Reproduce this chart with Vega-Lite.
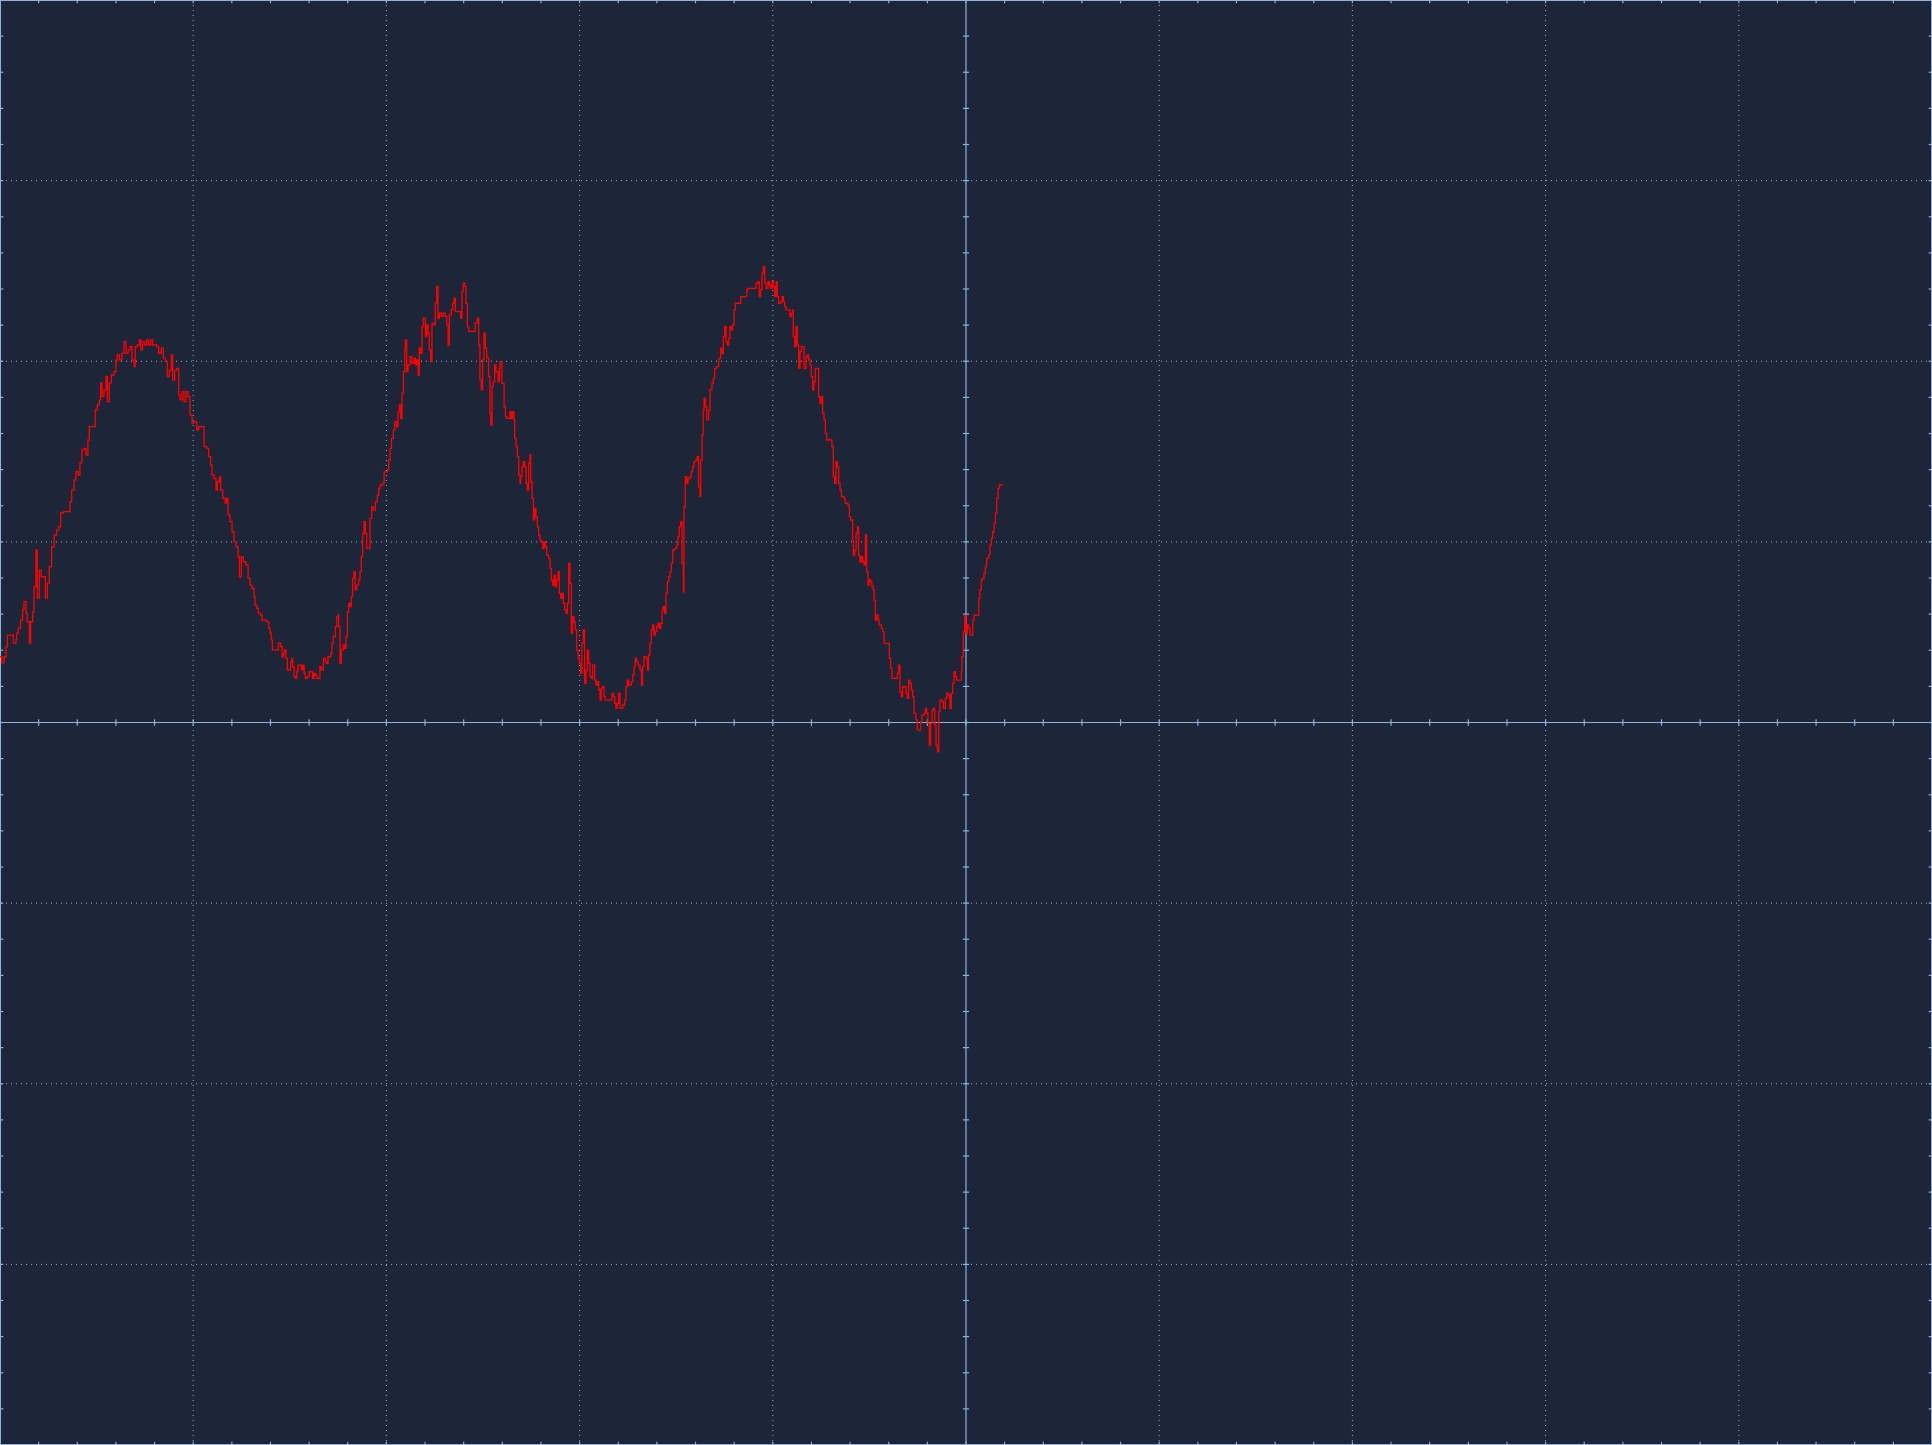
{
"$schema": "https://vega.github.io/schema/vega-lite/v6.json",
"width": 1932, "height": 1445,
"autosize": {"type": "none"},
"padding": 0,
"background": "#1c2638",
"config": {"view": {"stroke": "#8fb3dc", "strokeWidth": 2, "fill": "#1c2638"}},
"datasets": {
"vg": [{"p":1},{"p":2},{"p":3},{"p":4},{"p":6},{"p":7},{"p":8},{"p":9}],
"hg": [{"p":-3},{"p":-2},{"p":-1},{"p":1},{"p":2},{"p":3}],
"xt": [{"p":0.2},{"p":0.4},{"p":0.6},{"p":0.8},{"p":1},{"p":1.2},{"p":1.4},{"p":1.6},{"p":1.8},{"p":2},{"p":2.2},{"p":2.4},{"p":2.6},{"p":2.8},{"p":3},{"p":3.2},{"p":3.4},{"p":3.6},{"p":3.8},{"p":4},{"p":4.2},{"p":4.4},{"p":4.6},{"p":4.8},{"p":5},{"p":5.2},{"p":5.4},{"p":5.6},{"p":5.8},{"p":6},{"p":6.2},{"p":6.4},{"p":6.6},{"p":6.8},{"p":7},{"p":7.2},{"p":7.4},{"p":7.6},{"p":7.8},{"p":8},{"p":8.2},{"p":8.4},{"p":8.6},{"p":8.8},{"p":9},{"p":9.2},{"p":9.4},{"p":9.6},{"p":9.8}],
"yt": [{"p":-3.8},{"p":-3.6},{"p":-3.4},{"p":-3.2},{"p":-3},{"p":-2.8},{"p":-2.6},{"p":-2.4},{"p":-2.2},{"p":-2},{"p":-1.8},{"p":-1.6},{"p":-1.4},{"p":-1.2},{"p":-1},{"p":-0.8},{"p":-0.6},{"p":-0.4},{"p":-0.2},{"p":0},{"p":0.2},{"p":0.4},{"p":0.6},{"p":0.8},{"p":1},{"p":1.2},{"p":1.4},{"p":1.6},{"p":1.8},{"p":2},{"p":2.2},{"p":2.4},{"p":2.6},{"p":2.8},{"p":3},{"p":3.2},{"p":3.4},{"p":3.6},{"p":3.8}],
"trace": [
{"t":0,"v":0.364},{"t":0.009,"v":0.33},{"t":0.021,"v":0.364},{"t":0.031,"v":0.42},{"t":0.038,"v":0.484},{"t":0.060,"v":0.484},{"t":0.069,"v":0.44},{"t":0.083,"v":0.46},{"t":0.086,"v":0.495},{"t":0.095,"v":0.523},{"t":0.107,"v":0.567},{"t":0.117,"v":0.623},{"t":0.124,"v":0.669},{"t":0.135,"v":0.605},{"t":0.141,"v":0.558},{"t":0.152,"v":0.44},{"t":0.159,"v":0.558},{"t":0.169,"v":0.613},{"t":0.176,"v":0.752},{"t":0.186,"v":0.955},{"t":0.193,"v":0.689},{"t":0.204,"v":0.844},{"t":0.214,"v":0.807},{"t":0.228,"v":0.807},{"t":0.235,"v":0.689},{"t":0.245,"v":0.772},{"t":0.255,"v":0.863},{"t":0.267,"v":0.973},{"t":0.280,"v":1.038},{"t":0.293,"v":1.066},{"t":0.304,"v":1.084},{"t":0.314,"v":1.16},{"t":0.328,"v":1.167},{"t":0.354,"v":1.167},{"t":0.362,"v":1.223},{"t":0.371,"v":1.287},{"t":0.383,"v":1.343},{"t":0.393,"v":1.389},{"t":0.405,"v":1.37},{"t":0.414,"v":1.437},{"t":0.424,"v":1.509},{"t":0.435,"v":1.517},{"t":0.445,"v":1.481},{"t":0.455,"v":1.564},{"t":0.462,"v":1.638},{"t":0.483,"v":1.638},{"t":0.493,"v":1.73},{"t":0.504,"v":1.758},{"t":0.514,"v":1.786},{"t":0.521,"v":1.88},{"t":0.528,"v":1.804},{"t":0.538,"v":1.841},{"t":0.549,"v":1.915},{"t":0.556,"v":1.776},{"t":0.566,"v":1.88},{"t":0.576,"v":1.924},{"t":0.590,"v":1.942},{"t":0.600,"v":2.007},{"t":0.607,"v":2.035},{"t":0.618,"v":2.007},{"t":0.631,"v":2.044},{"t":0.642,"v":2.109},{"t":0.652,"v":2.044},{"t":0.663,"v":2.063},{"t":0.673,"v":2.081},{"t":0.683,"v":2.007},{"t":0.694,"v":1.97},{"t":0.700,"v":2.081},{"t":0.711,"v":2.09},{"t":0.721,"v":2.118},{"t":0.728,"v":2.063},{"t":0.738,"v":2.109},{"t":0.749,"v":2.09},{"t":0.759,"v":2.118},{"t":0.769,"v":2.09},{"t":0.780,"v":2.118},{"t":0.790,"v":2.09},{"t":0.811,"v":2.081},{"t":0.821,"v":2.044},{"t":0.835,"v":2.072},{"t":0.845,"v":2.017},{"t":0.856,"v":1.998},{"t":0.866,"v":1.915},{"t":0.876,"v":1.95},{"t":0.887,"v":2.035},{"t":0.894,"v":1.896},{"t":0.904,"v":1.95},{"t":0.914,"v":1.96},{"t":0.925,"v":1.813},{"t":0.932,"v":1.786},{"t":0.942,"v":1.832},{"t":0.952,"v":1.776},{"t":0.963,"v":1.832},{"t":0.973,"v":1.804},{"t":0.983,"v":1.703},{"t":0.994,"v":1.657},{"t":1.004,"v":1.666},{"t":1.018,"v":1.62},{"t":1.028,"v":1.638},{"t":1.049,"v":1.638},{"t":1.056,"v":1.527},{"t":1.070,"v":1.518},{"t":1.080,"v":1.472},{"t":1.090,"v":1.426},{"t":1.097,"v":1.37},{"t":1.108,"v":1.352},{"t":1.118,"v":1.287},{"t":1.125,"v":1.333},{"t":1.135,"v":1.36},{"t":1.142,"v":1.287},{"t":1.153,"v":1.241},{"t":1.166,"v":1.214},{"t":1.173,"v":1.241},{"t":1.180,"v":1.149},{"t":1.190,"v":1.112},{"t":1.201,"v":1.056},{"t":1.211,"v":1.001},{"t":1.222,"v":0.973},{"t":1.232,"v":0.918},{"t":1.239,"v":0.807},{"t":1.249,"v":0.918},{"t":1.259,"v":0.89},{"t":1.273,"v":0.872},{"t":1.284,"v":0.798},
{"t":1.294,"v":0.761},{"t":1.304,"v":0.743},{"t":1.315,"v":0.697},{"t":1.320,"v":0.650},{"t":1.329,"v":0.632},{"t":1.337,"v":0.605},{"t":1.349,"v":0.595},{"t":1.356,"v":0.567},{"t":1.380,"v":0.558},{"t":1.391,"v":0.521},{"t":1.398,"v":0.494},{"t":1.404,"v":0.457},{"t":1.410,"v":0.402},{"t":1.432,"v":0.402},{"t":1.441,"v":0.439},{"t":1.453,"v":0.420},{"t":1.460,"v":0.364},{"t":1.467,"v":0.383},{"t":1.473,"v":0.402},{"t":1.480,"v":0.355},{"t":1.487,"v":0.291},{"t":1.498,"v":0.291},{"t":1.504,"v":0.337},{"t":1.511,"v":0.355},{"t":1.515,"v":0.309},{"t":1.522,"v":0.254},{"t":1.529,"v":0.245},{"t":1.536,"v":0.281},{"t":1.542,"v":0.318},{"t":1.553,"v":0.318},{"t":1.560,"v":0.291},{"t":1.567,"v":0.318},{"t":1.574,"v":0.272},{"t":1.580,"v":0.245},{"t":1.591,"v":0.254},{"t":1.601,"v":0.281},{"t":1.611,"v":0.281},{"t":1.618,"v":0.245},{"t":1.625,"v":0.272},{"t":1.632,"v":0.263},{"t":1.639,"v":0.245},{"t":1.649,"v":0.245},{"t":1.656,"v":0.309},{"t":1.663,"v":0.291},{"t":1.674,"v":0.355},{"t":1.684,"v":0.337},{"t":1.691,"v":0.328},{"t":1.698,"v":0.364},{"t":1.712,"v":0.383},{"t":1.718,"v":0.439},{"t":1.725,"v":0.476},{"t":1.736,"v":0.531},{"t":1.743,"v":0.586},{"t":1.749,"v":0.595},{"t":1.753,"v":0.531},{"t":1.760,"v":0.328},{"t":1.767,"v":0.402},{"t":1.777,"v":0.429},{"t":1.784,"v":0.411},{"t":1.791,"v":0.476},{"t":1.798,"v":0.613},{"t":1.805,"v":0.660},{"t":1.812,"v":0.641},{"t":1.818,"v":0.697},{"t":1.825,"v":0.798},{"t":1.832,"v":0.835},{"t":1.839,"v":0.734},{"t":1.846,"v":0.761},{"t":1.856,"v":0.789},{"t":1.863,"v":0.835},{"t":1.870,"v":0.918},{"t":1.877,"v":1.047},{"t":1.884,"v":1.112},{"t":1.891,"v":1.047},{"t":1.898,"v":0.964},{"t":1.908,"v":0.964},{"t":1.915,"v":1.130},{"t":1.924,"v":1.195},{"t":1.932,"v":1.176},{"t":1.943,"v":1.222},{"t":1.953,"v":1.259},{"t":1.960,"v":1.296},{"t":1.967,"v":1.315},{"t":1.981,"v":1.324},{"t":1.988,"v":1.388},{"t":2.005,"v":1.398},{"t":2.012,"v":1.453},{"t":2.019,"v":1.518},{"t":2.026,"v":1.573},{"t":2.036,"v":1.619},{"t":2.043,"v":1.665},{"t":2.053,"v":1.638},{"t":2.060,"v":1.721},{"t":2.067,"v":1.758},{"t":2.074,"v":1.684},{"t":2.081,"v":1.823},{"t":2.088,"v":1.943},{"t":2.095,"v":2.063},{"t":2.098,"v":2.118},{"t":2.105,"v":1.943},{"t":2.112,"v":1.980},{"t":2.122,"v":2.026},{"t":2.132,"v":1.989},{"t":2.143,"v":2.017},{"t":2.150,"v":1.980},{"t":2.157,"v":2.007},{"t":2.164,"v":1.924},{"t":2.170,"v":2.072},{"t":2.177,"v":2.044},{"t":2.184,"v":2.192},{"t":2.191,"v":2.238},{"t":2.202,"v":2.136},{"t":2.208,"v":2.201},{"t":2.215,"v":2.155},{"t":2.222,"v":2.063},{"t":2.229,"v":1.998},{"t":2.236,"v":2.210},{"t":2.246,"v":2.201},{"t":2.253,"v":2.322},{"t":2.260,"v":2.415},{"t":2.267,"v":2.238},{"t":2.274,"v":2.266},{"t":2.284,"v":2.248},{"t":2.295,"v":2.266},{"t":2.305,"v":2.248},{"t":2.312,"v":2.201},{"t":2.319,"v":2.090},{"t":2.326,"v":2.257},{"t":2.336,"v":2.285},{"t":2.343,"v":2.321},{"t":2.350,"v":2.349},{"t":2.357,"v":2.275},{"t":2.377,"v":2.275},{"t":2.384,"v":2.238},{"t":2.391,"v":2.386},{"t":2.398,"v":2.432},{"t":2.405,"v":2.414},{"t":2.412,"v":2.321},{"t":2.419,"v":2.192},{"t":2.426,"v":2.165},{"t":2.450,"v":2.165},{"t":2.460,"v":2.211},{"t":2.471,"v":2.238},{"t":2.478,"v":2.090},{"t":2.484,"v":1.896},{"t":2.491,"v":1.841},{"t":2.498,"v":2.007},{"t":2.505,"v":2.155},{"t":2.512,"v":2.072},{"t":2.519,"v":2.017},{"t":2.529,"v":1.915},{"t":2.536,"v":1.712},{"t":2.540,"v":1.647},{"t":2.547,"v":1.860},{"t":2.553,"v":1.887},{"t":2.560,"v":1.980},{"t":2.567,"v":1.943},{"t":2.578,"v":1.887},{"t":2.585,"v":1.961},
{"t":2.588,"v":1.998},{"t":2.598,"v":1.878},{"t":2.609,"v":1.749},{"t":2.616,"v":1.693},{"t":2.623,"v":1.684},{"t":2.633,"v":1.684},{"t":2.640,"v":1.721},{"t":2.647,"v":1.684},{"t":2.654,"v":1.721},{"t":2.660,"v":1.675},{"t":2.664,"v":1.573},{"t":2.671,"v":1.527},{"t":2.678,"v":1.472},{"t":2.685,"v":1.370},{"t":2.692,"v":1.324},{"t":2.695,"v":1.361},{"t":2.702,"v":1.416},{"t":2.709,"v":1.444},{"t":2.716,"v":1.416},{"t":2.723,"v":1.324},{"t":2.729,"v":1.287},{"t":2.736,"v":1.435},{"t":2.743,"v":1.481},{"t":2.747,"v":1.333},{"t":2.754,"v":1.241},{"t":2.761,"v":1.121},{"t":2.767,"v":1.186},{"t":2.774,"v":1.139},{"t":2.781,"v":1.084},{"t":2.788,"v":1.038},{"t":2.795,"v":1.010},{"t":2.802,"v":1.001},{"t":2.809,"v":0.964},{"t":2.816,"v":1.001},{"t":2.823,"v":0.973},{"t":2.830,"v":0.927},{"t":2.840,"v":0.909},{"t":2.847,"v":0.853},{"t":2.854,"v":0.789},{"t":2.861,"v":0.761},{"t":2.868,"v":0.816},{"t":2.874,"v":0.752},{"t":2.881,"v":0.789},{"t":2.888,"v":0.835},{"t":2.895,"v":0.715},{"t":2.902,"v":0.687},{"t":2.909,"v":0.715},{"t":2.916,"v":0.660},{"t":2.923,"v":0.623},{"t":2.930,"v":0.604},{"t":2.937,"v":0.660},{"t":2.943,"v":0.881},{"t":2.950,"v":0.770},{"t":2.957,"v":0.493},{"t":2.964,"v":0.586},{"t":2.971,"v":0.558},{"t":2.978,"v":0.512},{"t":2.985,"v":0.401},{"t":2.992,"v":0.355},{"t":2.999,"v":0.327},{"t":3.006,"v":0.272},{"t":3.012,"v":0.438},{"t":3.019,"v":0.512},{"t":3.026,"v":0.217},{"t":3.033,"v":0.290},{"t":3.040,"v":0.401},{"t":3.047,"v":0.327},{"t":3.054,"v":0.254},{"t":3.061,"v":0.244},{"t":3.068,"v":0.318},{"t":3.078,"v":0.235},{"t":3.085,"v":0.207},{"t":3.092,"v":0.226},{"t":3.099,"v":0.180},{"t":3.106,"v":0.124},{"t":3.112,"v":0.189},{"t":3.119,"v":0.198},{"t":3.126,"v":0.143},{"t":3.133,"v":0.124},{"t":3.157,"v":0.124},{"t":3.168,"v":0.161},{"t":3.175,"v":0.143},{"t":3.182,"v":0.106},{"t":3.188,"v":0.078},{"t":3.195,"v":0.106},{"t":3.202,"v":0.161},{"t":3.209,"v":0.078},{"t":3.223,"v":0.097},{"t":3.233,"v":0.124},{"t":3.240,"v":0.198},{"t":3.247,"v":0.235},{"t":3.254,"v":0.207},{"t":3.268,"v":0.226},{"t":3.275,"v":0.263},{"t":3.282,"v":0.309},{"t":3.288,"v":0.355},{"t":3.295,"v":0.337},{"t":3.302,"v":0.318},{"t":3.313,"v":0.290},{"t":3.320,"v":0.207},{"t":3.326,"v":0.309},{"t":3.333,"v":0.364},{"t":3.344,"v":0.355},{"t":3.351,"v":0.290},{"t":3.357,"v":0.373},{"t":3.364,"v":0.438},{"t":3.371,"v":0.512},{"t":3.378,"v":0.540},{"t":3.385,"v":0.484},{"t":3.392,"v":0.503},{"t":3.399,"v":0.530},{"t":3.406,"v":0.549},{"t":3.413,"v":0.521},{"t":3.420,"v":0.549},{"t":3.427,"v":0.623},{"t":3.433,"v":0.641},{"t":3.440,"v":0.604},{"t":3.447,"v":0.715},{"t":3.454,"v":0.780},{"t":3.461,"v":0.807},{"t":3.468,"v":0.835},{"t":3.475,"v":0.881},{"t":3.482,"v":0.955},{"t":3.492,"v":0.964},{"t":3.502,"v":0.982},{"t":3.509,"v":1.029},{"t":3.516,"v":1.084},{"t":3.523,"v":1.112},{"t":3.530,"v":0.881},{"t":3.537,"v":0.724},{"t":3.540,"v":1.195},{"t":3.547,"v":1.361},{"t":3.554,"v":1.324},{"t":3.561,"v":1.352},{"t":3.571,"v":1.361},{"t":3.578,"v":1.389},{"t":3.585,"v":1.416},{"t":3.592,"v":1.444},{"t":3.602,"v":1.453},{"t":3.609,"v":1.472},{"t":3.616,"v":1.306},{"t":3.623,"v":1.250},{"t":3.627,"v":1.453},{"t":3.634,"v":1.592},{"t":3.640,"v":1.730},{"t":3.644,"v":1.795},{"t":3.651,"v":1.749},{"t":3.658,"v":1.675},{"t":3.668,"v":1.730},{"t":3.675,"v":1.841},{"t":3.685,"v":1.878},{"t":3.692,"v":1.905},{"t":3.699,"v":1.961},{"t":3.709,"v":1.970},{"t":3.720,"v":2.016},{"t":3.730,"v":2.072},{"t":3.737,"v":2.044},{"t":3.744,"v":2.136},{"t":3.751,"v":2.191},{"t":3.758,"v":2.108},{"t":3.765,"v":2.090},{"t":3.772,"v":2.127},{"t":3.778,"v":2.191},{"t":3.785,"v":2.173},{"t":3.792,"v":2.201},{"t":3.799,"v":2.284},{"t":3.806,"v":2.321},{"t":3.827,"v":2.321},{"t":3.834,"v":2.358},{"t":3.858,"v":2.358},{"t":3.865,"v":2.395},{"t":3.872,"v":2.404},
{"t":3.882,"v":2.404},{"t":3.906,"v":2.404},{"t":3.913,"v":2.431},{"t":3.923,"v":2.441},{"t":3.930,"v":2.358},{"t":3.937,"v":2.395},{"t":3.944,"v":2.487},{"t":3.951,"v":2.524},{"t":3.958,"v":2.431},{"t":3.965,"v":2.404},{"t":3.975,"v":2.441},{"t":3.982,"v":2.422},{"t":3.989,"v":2.404},{"t":3.996,"v":2.441},{"t":4.003,"v":2.413},{"t":4.010,"v":2.358},{"t":4.017,"v":2.441},{"t":4.023,"v":2.358},{"t":4.030,"v":2.321},{"t":4.041,"v":2.330},{"t":4.048,"v":2.358},{"t":4.055,"v":2.330},{"t":4.061,"v":2.302},{"t":4.068,"v":2.284},{"t":4.082,"v":2.284},{"t":4.089,"v":2.247},{"t":4.096,"v":2.265},{"t":4.103,"v":2.284},{"t":4.106,"v":2.136},{"t":4.113,"v":2.081},{"t":4.120,"v":2.191},{"t":4.127,"v":2.090},{"t":4.134,"v":1.961},{"t":4.141,"v":2.053},{"t":4.148,"v":2.081},{"t":4.155,"v":2.081},{"t":4.162,"v":1.961},{"t":4.172,"v":2.025},{"t":4.179,"v":2.035},{"t":4.186,"v":2.007},{"t":4.193,"v":1.979},{"t":4.199,"v":1.915},{"t":4.206,"v":1.841},{"t":4.213,"v":1.887},{"t":4.220,"v":1.961},{"t":4.234,"v":1.961},{"t":4.237,"v":1.804},{"t":4.244,"v":1.767},{"t":4.251,"v":1.804},{"t":4.258,"v":1.712},{"t":4.265,"v":1.675},{"t":4.272,"v":1.601},{"t":4.279,"v":1.564},{"t":4.300,"v":1.564},{"t":4.306,"v":1.527},{"t":4.313,"v":1.361},{"t":4.320,"v":1.324},{"t":4.327,"v":1.444},{"t":4.334,"v":1.416},{"t":4.341,"v":1.324},{"t":4.348,"v":1.287},{"t":4.355,"v":1.250},{"t":4.369,"v":1.241},{"t":4.375,"v":1.213},{"t":4.389,"v":1.204},{"t":4.396,"v":1.139},{"t":4.403,"v":1.121},{"t":4.410,"v":1.121},{"t":4.413,"v":1.010},{"t":4.417,"v":0.927},{"t":4.424,"v":0.955},{"t":4.431,"v":1.047},{"t":4.438,"v":1.084},{"t":4.444,"v":0.927},{"t":4.451,"v":0.890},{"t":4.458,"v":0.918},{"t":4.465,"v":0.890},{"t":4.472,"v":0.872},{"t":4.479,"v":1.038},{"t":4.486,"v":0.835},{"t":4.493,"v":0.761},{"t":4.500,"v":0.789},{"t":4.507,"v":0.780},{"t":4.513,"v":0.752},{"t":4.520,"v":0.733},{"t":4.524,"v":0.678},{"t":4.531,"v":0.567},{"t":4.538,"v":0.595},{"t":4.545,"v":0.567},{"t":4.551,"v":0.540},{"t":4.562,"v":0.521},{"t":4.569,"v":0.503},{"t":4.576,"v":0.438},{"t":4.596,"v":0.438},{"t":4.603,"v":0.355},{"t":4.610,"v":0.300},{"t":4.617,"v":0.244},{"t":4.638,"v":0.244},{"t":4.645,"v":0.272},{"t":4.651,"v":0.318},{"t":4.658,"v":0.170},{"t":4.665,"v":0.143},{"t":4.672,"v":0.198},{"t":4.683,"v":0.198},{"t":4.689,"v":0.161},{"t":4.696,"v":0.134},{"t":4.703,"v":0.235},{"t":4.710,"v":0.216},{"t":4.717,"v":0.180},{"t":4.724,"v":0.143},{"t":4.731,"v":0.050},{"t":4.741,"v":0.014},{"t":4.748,"v":-0.042},{"t":4.758,"v":-0.042},{"t":4.765,"v":0.004},{"t":4.772,"v":0.041},{"t":4.783,"v":0.050},{"t":4.790,"v":0.078},{"t":4.796,"v":0.050},{"t":4.803,"v":-0.005},{"t":4.810,"v":-0.125},{"t":4.817,"v":-0.005},{"t":4.824,"v":0.069},{"t":4.831,"v":0.078},{"t":4.838,"v":-0.014},{"t":4.845,"v":-0.125},{"t":4.852,"v":-0.162},{"t":4.859,"v":0.060},{"t":4.865,"v":0.124},{"t":4.876,"v":0.115},{"t":4.883,"v":0.078},{"t":4.893,"v":0.134},{"t":4.900,"v":0.161},{"t":4.910,"v":0.152},{"t":4.917,"v":0.078},{"t":4.924,"v":0.161},{"t":4.931,"v":0.217},{"t":4.938,"v":0.281},{"t":4.945,"v":0.253},{"t":4.952,"v":0.235},{"t":4.969,"v":0.235},{"t":4.976,"v":0.281},{"t":4.979,"v":0.364},{"t":4.986,"v":0.503},{"t":4.993,"v":0.595},{"t":5.000,"v":0.493},{"t":5.007,"v":0.540},{"t":5.014,"v":0.521},{"t":5.021,"v":0.484},{"t":5.028,"v":0.484},{"t":5.035,"v":0.567},{"t":5.041,"v":0.595},{"t":5.059,"v":0.595},{"t":5.066,"v":0.687},{"t":5.072,"v":0.733},{"t":5.079,"v":0.789},{"t":5.086,"v":0.798},{"t":5.093,"v":0.826},{"t":5.100,"v":0.863},{"t":5.107,"v":0.909},{"t":5.117,"v":0.927},{"t":5.124,"v":0.982},{"t":5.131,"v":1.019},{"t":5.138,"v":1.056},{"t":5.145,"v":1.102},{"t":5.152,"v":1.158},{"t":5.159,"v":1.241},{"t":5.166,"v":1.296},{"t":5.173,"v":1.315},{"t":5.190,"v":1.315}
]
},
"layer": [
{"data": {"name": "vg"}, "mark": {"type": "rule", "color": "#8fb3dc", "strokeWidth": 1, "strokeDash": [1, 4]},
 "encoding": {"x": {"field": "p", "type": "quantitative", "scale": {"domain": [0, 10], "nice": false, "zero": false}, "axis": null}}},
{"data": {"name": "hg"}, "mark": {"type": "rule", "color": "#8fb3dc", "strokeWidth": 1, "strokeDash": [1, 4]},
 "encoding": {"y": {"field": "p", "type": "quantitative", "scale": {"domain": [-4, 4], "nice": false, "zero": false}, "axis": null}}},
{"data": {"values": [{"p": 5}]}, "mark": {"type": "rule", "color": "#8fb3dc", "strokeWidth": 1.2},
 "encoding": {"x": {"field": "p", "type": "quantitative", "scale": {"domain": [0, 10], "nice": false, "zero": false}, "axis": null}}},
{"data": {"values": [{"p": 0}]}, "mark": {"type": "rule", "color": "#8fb3dc", "strokeWidth": 1.2},
 "encoding": {"y": {"field": "p", "type": "quantitative", "scale": {"domain": [-4, 4], "nice": false, "zero": false}, "axis": null}}},
{"data": {"name": "xt"}, "mark": {"type": "rule", "color": "#8fb3dc", "strokeWidth": 1.2},
 "encoding": {"x": {"field": "p", "type": "quantitative", "scale": {"domain": [0, 10], "nice": false, "zero": false}, "axis": null},
  "y": {"datum": -0.018, "type": "quantitative", "scale": {"domain": [-4, 4], "nice": false, "zero": false}, "axis": null}, "y2": {"datum": 0.018}}},
{"data": {"name": "yt"}, "mark": {"type": "rule", "color": "#8fb3dc", "strokeWidth": 1.2},
 "encoding": {"y": {"field": "p", "type": "quantitative", "scale": {"domain": [-4, 4], "nice": false, "zero": false}, "axis": null},
  "x": {"datum": 4.984, "type": "quantitative", "scale": {"domain": [0, 10], "nice": false, "zero": false}, "axis": null}, "x2": {"datum": 5.016}}},
{"data": {"name": "xt"}, "mark": {"type": "rule", "color": "#8fb3dc", "strokeWidth": 1.2},
 "encoding": {"x": {"field": "p", "type": "quantitative", "scale": {"domain": [0, 10], "nice": false, "zero": false}, "axis": null},
  "y": {"datum": 4, "type": "quantitative", "scale": {"domain": [-4, 4], "nice": false, "zero": false}, "axis": null}, "y2": {"datum": 3.982}}},
{"data": {"name": "xt"}, "mark": {"type": "rule", "color": "#8fb3dc", "strokeWidth": 1.2},
 "encoding": {"x": {"field": "p", "type": "quantitative", "scale": {"domain": [0, 10], "nice": false, "zero": false}, "axis": null},
  "y": {"datum": -4, "type": "quantitative", "scale": {"domain": [-4, 4], "nice": false, "zero": false}, "axis": null}, "y2": {"datum": -3.982}}},
{"data": {"name": "yt"}, "mark": {"type": "rule", "color": "#8fb3dc", "strokeWidth": 1.2},
 "encoding": {"y": {"field": "p", "type": "quantitative", "scale": {"domain": [-4, 4], "nice": false, "zero": false}, "axis": null},
  "x": {"datum": 0, "type": "quantitative", "scale": {"domain": [0, 10], "nice": false, "zero": false}, "axis": null}, "x2": {"datum": 0.017}}},
{"data": {"name": "yt"}, "mark": {"type": "rule", "color": "#8fb3dc", "strokeWidth": 1.2},
 "encoding": {"y": {"field": "p", "type": "quantitative", "scale": {"domain": [-4, 4], "nice": false, "zero": false}, "axis": null},
  "x": {"datum": 10, "type": "quantitative", "scale": {"domain": [0, 10], "nice": false, "zero": false}, "axis": null}, "x2": {"datum": 9.983}}},
{"data": {"name": "trace"}, "mark": {"type": "line", "interpolate": "step-after", "color": "#ff0000", "strokeWidth": 1.3},
 "encoding": {"x": {"field": "t", "type": "quantitative", "scale": {"domain": [0, 10], "nice": false, "zero": false}, "axis": null},
  "y": {"field": "v", "type": "quantitative", "scale": {"domain": [-4, 4], "nice": false, "zero": false}, "axis": null}}}
]
}
